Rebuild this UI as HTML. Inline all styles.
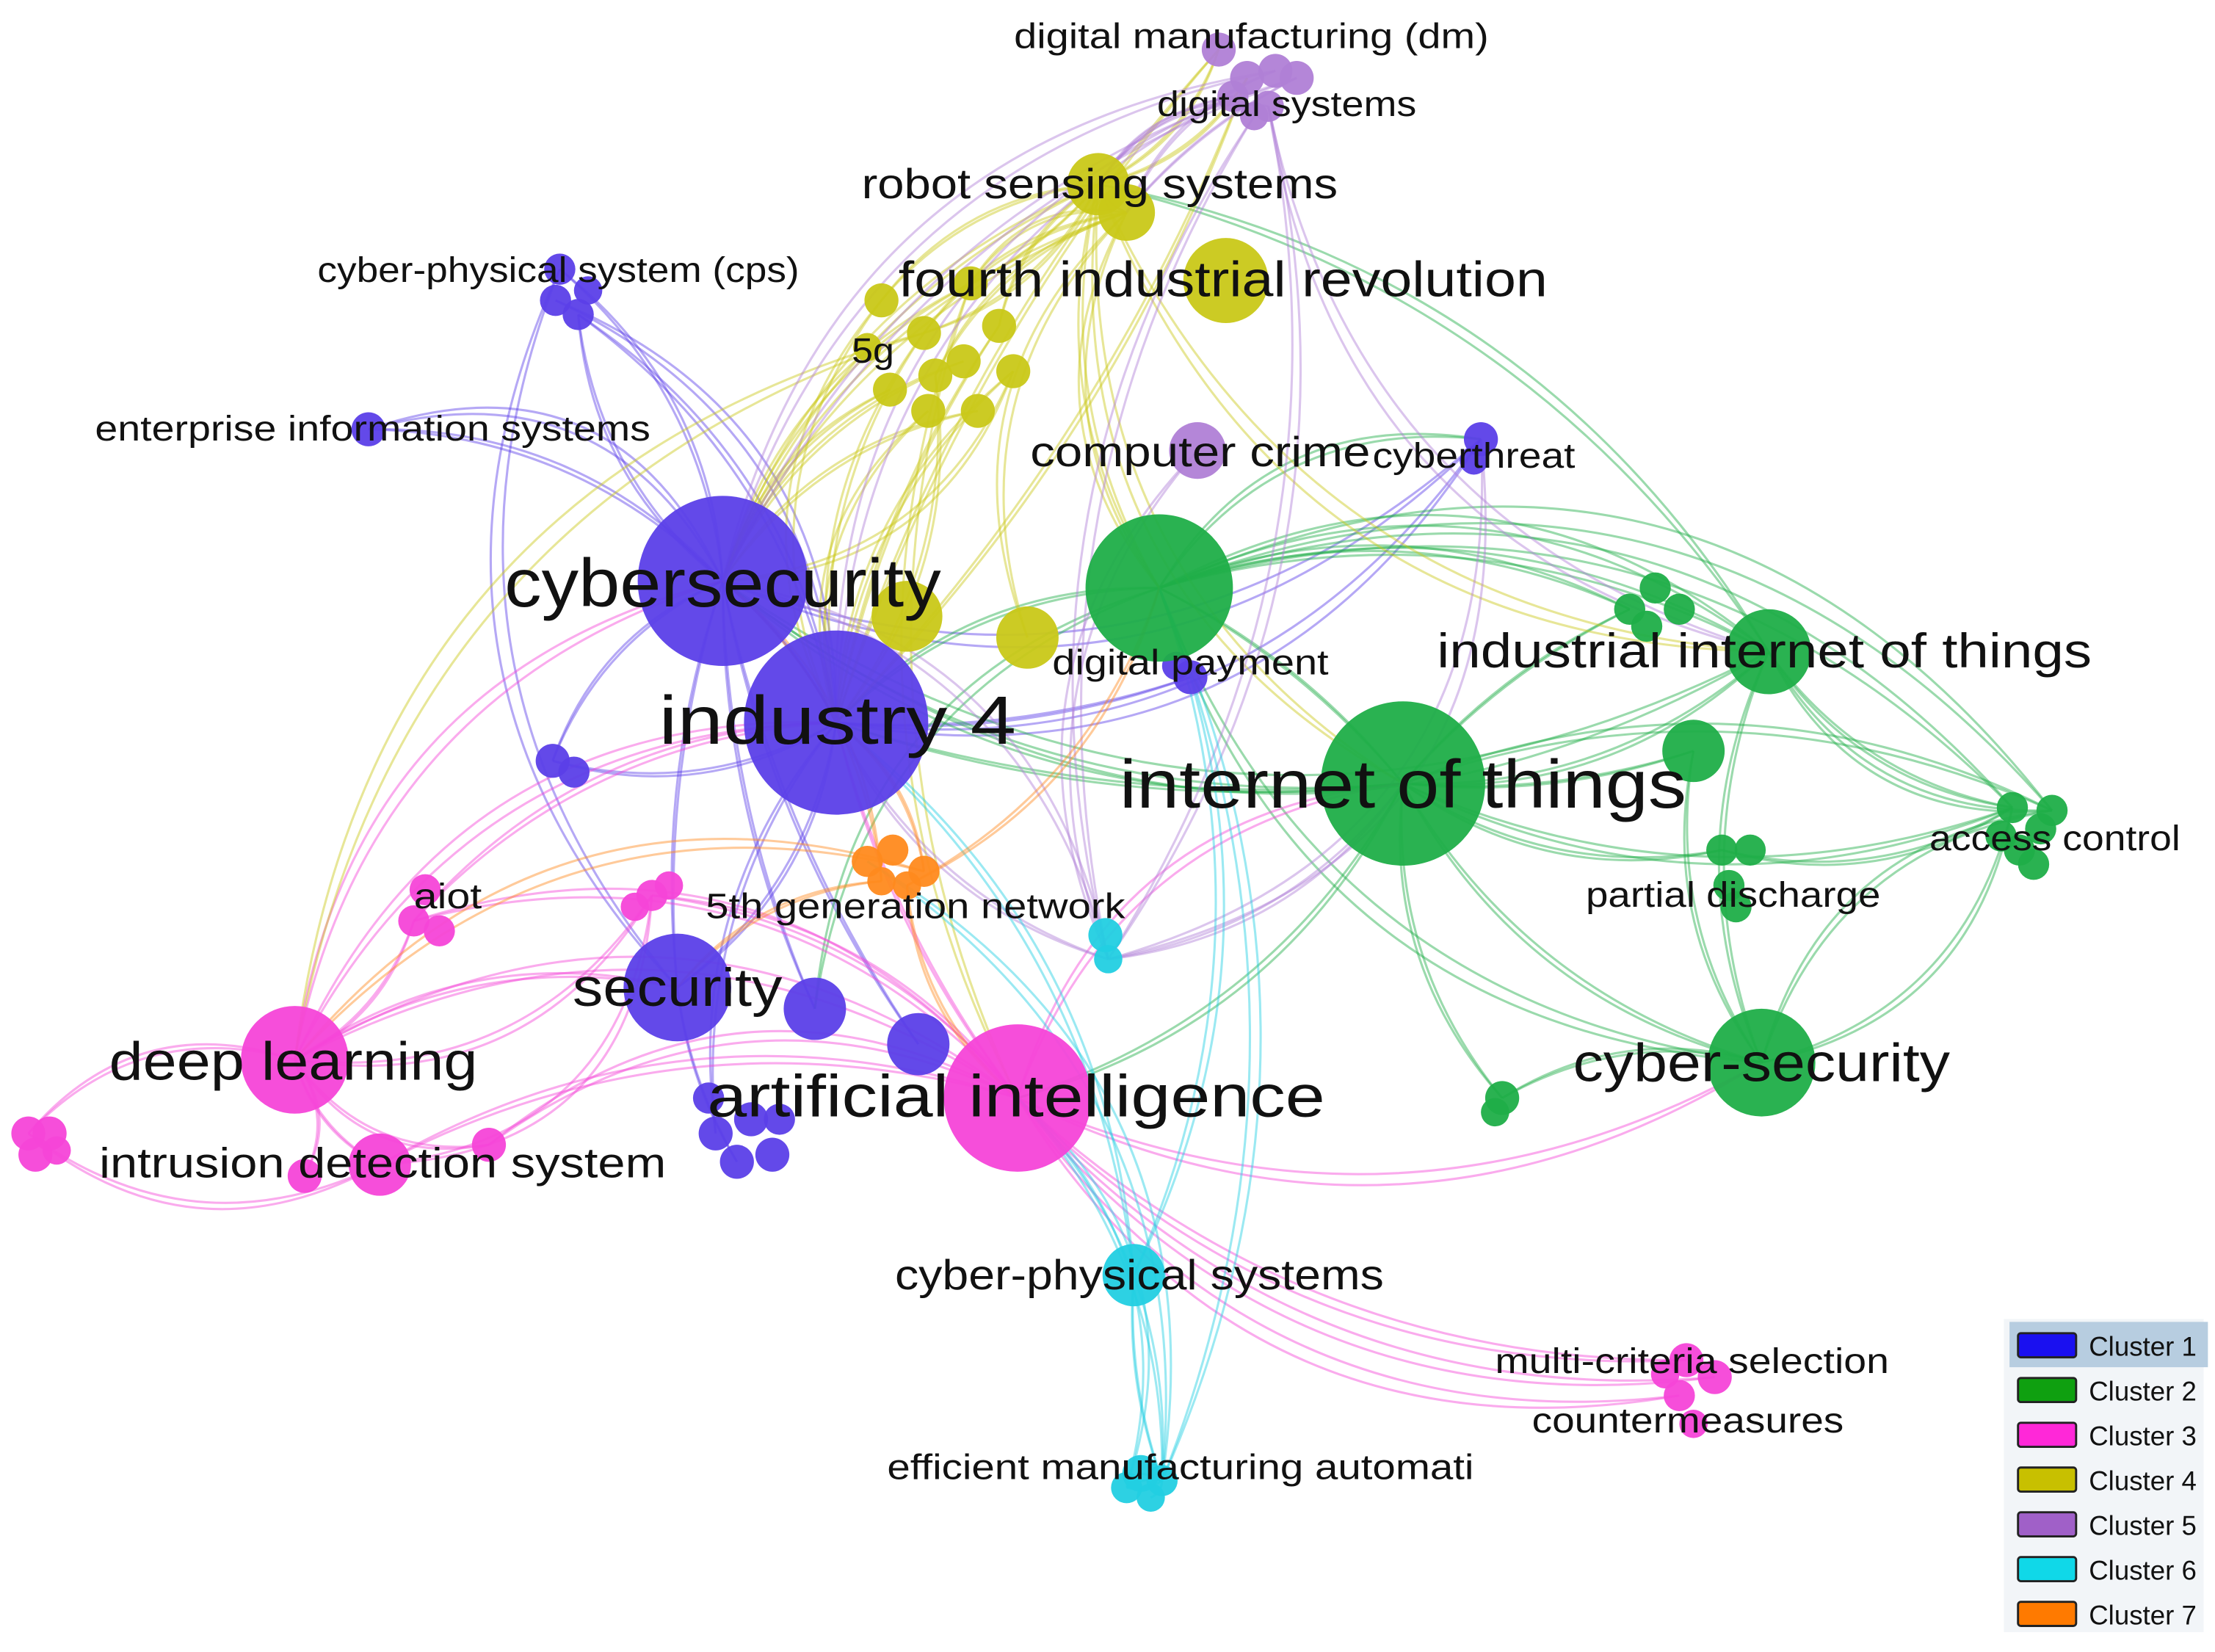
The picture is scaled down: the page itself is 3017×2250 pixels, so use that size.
<!DOCTYPE html>
<html><head><meta charset="utf-8"><style>
html,body{margin:0;padding:0;background:#fff;}
svg{display:block;}
text{font-family:"Liberation Sans",sans-serif;fill:#111;}
</style></head><body>
<svg id="s" width="3017" height="2250" viewBox="0 0 1563 1166" preserveAspectRatio="none" xmlns="http://www.w3.org/2000/svg">
<rect width="1563" height="1166" fill="#fff"/>
<g id="edges" fill="none" stroke-width="1.6" stroke-opacity="0.45"></g>
<g id="nodes"></g>
<g id="labels">
<text x="883" y="34" font-size="25" text-anchor="middle" textLength="335" lengthAdjust="spacingAndGlyphs">digital manufacturing (dm)</text>
<text x="908" y="82" font-size="25" text-anchor="middle" textLength="183" lengthAdjust="spacingAndGlyphs">digital systems</text>
<text x="776" y="140" font-size="30" text-anchor="middle" textLength="336" lengthAdjust="spacingAndGlyphs">robot sensing systems</text>
<text x="863" y="209" font-size="35" text-anchor="middle" textLength="458" lengthAdjust="spacingAndGlyphs">fourth industrial revolution</text>
<text x="394" y="199" font-size="25" text-anchor="middle" textLength="340" lengthAdjust="spacingAndGlyphs">cyber-physical system (cps)</text>
<text x="616" y="256" font-size="25" text-anchor="middle" textLength="30" lengthAdjust="spacingAndGlyphs">5g</text>
<text x="263" y="311" font-size="25" text-anchor="middle" textLength="392" lengthAdjust="spacingAndGlyphs">enterprise information systems</text>
<text x="847" y="329" font-size="30" text-anchor="middle" textLength="240" lengthAdjust="spacingAndGlyphs">computer crime</text>
<text x="1040" y="330" font-size="25" text-anchor="middle" textLength="143" lengthAdjust="spacingAndGlyphs">cyberthreat</text>
<text x="510" y="428" font-size="48" text-anchor="middle" textLength="308" lengthAdjust="spacingAndGlyphs">cybersecurity</text>
<text x="840" y="476" font-size="25" text-anchor="middle" textLength="195" lengthAdjust="spacingAndGlyphs">digital payment</text>
<text x="1245" y="471" font-size="34" text-anchor="middle" textLength="462" lengthAdjust="spacingAndGlyphs">industrial internet of things</text>
<text x="591" y="525" font-size="48" text-anchor="middle" textLength="252" lengthAdjust="spacingAndGlyphs">industry 4</text>
<text x="990" y="570" font-size="48" text-anchor="middle" textLength="400" lengthAdjust="spacingAndGlyphs">internet of things</text>
<text x="1450" y="600" font-size="25" text-anchor="middle" textLength="177" lengthAdjust="spacingAndGlyphs">access control</text>
<text x="1223" y="640" font-size="25" text-anchor="middle" textLength="208" lengthAdjust="spacingAndGlyphs">partial discharge</text>
<text x="316" y="641" font-size="25" text-anchor="middle" textLength="48" lengthAdjust="spacingAndGlyphs">aiot</text>
<text x="646" y="648" font-size="25" text-anchor="middle" textLength="296" lengthAdjust="spacingAndGlyphs">5th generation network</text>
<text x="478" y="710" font-size="38" text-anchor="middle" textLength="148" lengthAdjust="spacingAndGlyphs">security</text>
<text x="207" y="762" font-size="38" text-anchor="middle" textLength="260" lengthAdjust="spacingAndGlyphs">deep learning</text>
<text x="1243" y="763" font-size="38" text-anchor="middle" textLength="266" lengthAdjust="spacingAndGlyphs">cyber-security</text>
<text x="717" y="788" font-size="42" text-anchor="middle" textLength="436" lengthAdjust="spacingAndGlyphs">artificial intelligence</text>
<text x="270" y="831" font-size="30" text-anchor="middle" textLength="400" lengthAdjust="spacingAndGlyphs">intrusion detection system</text>
<text x="804" y="910" font-size="30" text-anchor="middle" textLength="345" lengthAdjust="spacingAndGlyphs">cyber-physical systems</text>
<text x="1194" y="969" font-size="25" text-anchor="middle" textLength="278" lengthAdjust="spacingAndGlyphs">multi-criteria selection</text>
<text x="1191" y="1011" font-size="25" text-anchor="middle" textLength="220" lengthAdjust="spacingAndGlyphs">countermeasures</text>
<text x="833" y="1044" font-size="25" text-anchor="middle" textLength="414" lengthAdjust="spacingAndGlyphs">efficient manufacturing automati</text>
</g>
<g id="legend">
<rect x="1414" y="931" width="141" height="221" fill="#f2f5f8"/>
<rect x="1418" y="933" width="140" height="32" fill="#b7cde0"/>
</g>
</svg>
<script>
var NS="http://www.w3.org/2000/svg";
var C={1:"#5b3fe8",2:"#1fae48",3:"#f545d8",4:"#c9c818",5:"#b07fd6",6:"#22cfe2",7:"#ff8a1e"};
var N=[
[1,510,410,60],[1,590,510,65],[1,478,697,38],[1,575,712,22],[1,648,737,22],
[1,505,800,12],[1,520,820,12],[1,545,815,12],[1,530,790,12],[1,500,775,11],[1,550,790,11],
[1,840,478,12],[1,830,470,10],[1,1045,310,12],[1,1040,325,10],[1,260,303,12],
[1,395,190,11],[1,408,222,11],[1,392,212,11],[1,415,205,10],[1,390,537,12],[1,405,545,11],
[2,990,553,58],[2,818,415,52],[2,1248,460,30],[2,1195,530,22],
[2,1150,430,11],[2,1168,415,11],[2,1185,430,11],[2,1162,442,11],
[2,1420,570,11],[2,1440,585,11],[2,1425,600,11],[2,1448,572,11],[2,1435,610,11],[2,1412,590,11],
[2,1215,600,11],[2,1235,600,11],[2,1220,625,11],[2,1225,640,11],[2,1243,750,38],[2,1060,775,12],[2,1055,785,10],
[3,718,775,52],[3,208,748,38],[3,268,822,22],[3,215,830,12],[3,345,808,12],
[3,20,800,12],[3,35,800,12],[3,25,815,12],[3,40,812,10],
[3,292,650,11],[3,310,657,11],[3,300,628,11],[3,460,632,11],[3,472,625,10],[3,448,640,10],
[3,1190,960,12],[3,1210,972,12],[3,1185,985,11],[3,1195,1005,10],[3,1175,970,10],
[4,865,198,30],[4,775,130,22],[4,795,150,20],
[4,622,212,12],[4,652,235,12],[4,685,200,12],[4,705,230,12],[4,715,262,12],[4,680,255,12],[4,660,265,12],
[4,628,275,12],[4,655,290,12],[4,690,290,12],[4,612,245,10],[4,640,435,25],[4,725,450,22],
[5,860,35,12],[5,880,55,12],[5,900,50,12],[5,915,55,12],[5,870,68,11],[5,895,75,11],[5,885,82,10],[5,845,318,20],
[6,780,660,12],[6,782,677,10],[6,800,900,22],[6,805,1040,13],[6,820,1045,11],[6,795,1050,11],[6,812,1057,10],
[7,612,608,11],[7,630,600,11],[7,652,615,11],[7,622,622,10],[7,640,625,10]
];
var E=[
[1,0,1,-.1],[1,0,2,.1],[1,0,3,.1],[1,0,4,.1],[1,0,16,.2],[1,0,15,.2],[1,0,17,-.2],[1,1,18,.3],[1,1,17,.2],[1,1,2,-.2],[1,1,13,.3],[1,0,13,.3],[1,1,11,.1],
[1,1,5,.2],[1,2,6,.1],[1,0,20,.2],[1,1,20,-.2],[1,15,0,-.4],[1,16,2,.3],
[2,22,23,.1],[2,22,24,.2],[2,22,25,.1],[2,22,40,.2],[2,22,30,.2],[2,22,33,-.2],[2,22,36,.2],[2,23,24,-.2],[2,23,24,-.3],[2,23,30,-.3],[2,23,33,-.35],
[2,24,40,.2],[2,24,30,.2],[2,24,33,.3],[2,25,40,.2],[2,40,30,.3],[2,40,33,-.3],[2,36,30,.2],[2,23,26,-.2],[2,22,26,-.1],[2,22,41,.2],[2,23,40,.3],
[2,23,1,.2],[2,22,1,-.1],[2,22,0,-.2],[2,23,13,-.3],[2,64,24,-.2],[2,23,3,.3],[2,24,0,-.3],[2,22,43,-.2],[2,40,41,.2],
[3,43,44,.3],[3,43,45,.2],[3,43,47,.3],[3,44,45,.2],[3,44,48,.3],[3,44,52,.2],[3,44,55,.3],[3,44,46,-.3],[3,43,58,.2],[3,43,59,.25],[3,43,60,.3],
[3,45,48,-.3],[3,43,52,.3],[3,43,55,.2],[3,1,44,.3],[3,1,52,.2],[3,2,44,.2],[3,43,22,-.3],[3,43,40,.25],[3,44,47,.3],[3,45,55,.4],[3,1,43,.1],[3,0,44,.3],
[4,64,65,.2],[4,64,66,.2],[4,64,67,-.2],[4,64,68,-.1],[4,64,69,.2],[4,65,67,.2],[4,65,68,.3],[4,65,72,.2],[4,65,78,.3],[4,64,79,.2],[4,64,80,.2],
[4,65,0,.2],[4,64,0,.2],[4,66,1,.3],[4,67,1,.2],[4,68,0,.2],[4,69,1,.1],[4,70,1,.2],[4,71,0,.2],[4,72,1,-.2],[4,73,0,.2],[4,74,1,.3],[4,75,0,.2],[4,79,1,.1],[4,80,1,-.1],
[4,64,24,.3],[4,64,22,.3],[4,65,23,.3],[4,64,23,.2],[4,67,44,.3],[4,70,0,-.3],[4,68,43,.2],
[5,81,65,.2],[5,82,65,.1],[5,83,64,.2],[5,84,64,.3],[5,85,88,.2],[5,86,88,.3],[5,84,88,-.2],[5,88,13,.4],[5,88,0,.3],[5,84,24,.3],[5,88,22,.2],[5,81,0,.3],[5,82,0,.2],[5,83,1,.3],[5,88,1,-.2],
[6,89,91,.1],[6,90,91,-.1],[6,91,92,.2],[6,91,92,-.2],[6,91,94,.3],[6,91,93,-.3],[6,91,43,.2],[6,89,1,.2],[6,89,23,.2],[6,91,23,.2],[6,92,43,.3],
[7,96,1,.2],[7,97,2,.2],[7,98,43,.2],[7,96,44,.3],[7,97,0,.2],[7,98,23,.2],[7,99,64,.3]
];
var eg=document.getElementById("edges"),ng=document.getElementById("nodes");
E.forEach(function(e){
 var a=N[e[1]],b=N[e[2]];if(!a||!b)return;
 var mx=(a[1]+b[1])/2,my=(a[2]+b[2])/2,dx=b[1]-a[1],dy=b[2]-a[2];
 var k=e[3];
 for(var j=0;j<2;j++){
  var kk=k*(1+j*0.12);
  var cx=mx-dy*kk,cy=my+dx*kk;
  var p=document.createElementNS(NS,"path");
  p.setAttribute("d","M"+a[1]+","+a[2]+" Q"+cx+","+cy+" "+b[1]+","+b[2]);
  p.setAttribute("stroke",C[e[0]]);
  eg.appendChild(p);
 }
});
N.forEach(function(n){
 var c=document.createElementNS(NS,"circle");
 c.setAttribute("cx",n[1]);c.setAttribute("cy",n[2]);c.setAttribute("r",n[3]);
 c.setAttribute("fill",C[n[0]]);c.setAttribute("fill-opacity","0.95");
 ng.appendChild(c);
});
var lg=document.getElementById("legend");
var LC=["#1a10f0","#0fa010","#ff28d8","#c8c000","#a060c8","#10d8e8","#ff7a00"];
for(var i=0;i<7;i++){
 var y=936+i*31.6;
 var r=document.createElementNS(NS,"rect");
 r.setAttribute("x",1424);r.setAttribute("y",y+5);r.setAttribute("width",41);r.setAttribute("height",17);
 r.setAttribute("fill",LC[i]);r.setAttribute("stroke","#222");r.setAttribute("stroke-width","1.5");r.setAttribute("rx","2");
 lg.appendChild(r);
 var t=document.createElementNS(NS,"text");
 t.setAttribute("x",1474);t.setAttribute("y",y+21);t.setAttribute("font-size","19");
 t.setAttribute("fill","#333");t.textContent="Cluster "+(i+1);
 lg.appendChild(t);
}
</script>
</body></html>
